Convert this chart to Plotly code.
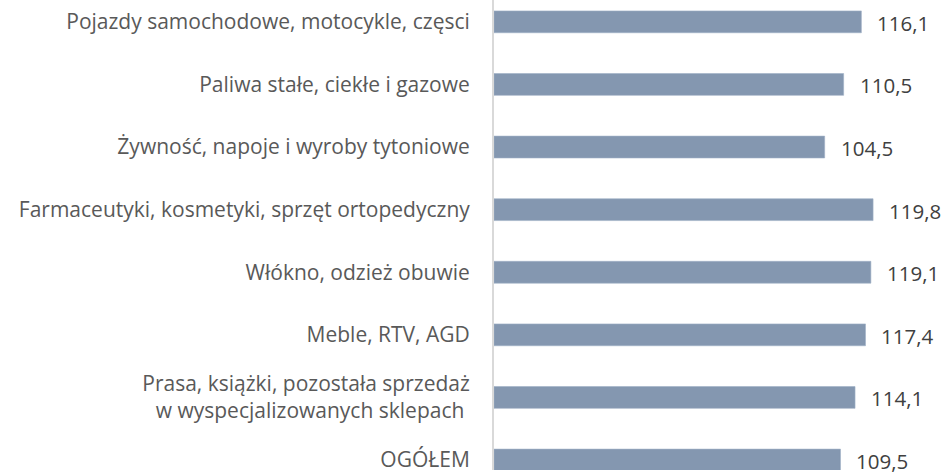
import plotly.graph_objects as go

categories = [
    "Pojazdy samochodowe, motocykle, częsci",
    "Paliwa stałe, ciekłe i gazowe",
    "Żywność, napoje i wyroby tytoniowe",
    "Farmaceutyki, kosmetyki, sprzęt ortopedyczny",
    "Włókno, odzież obuwie",
    "Meble, RTV, AGD",
    "Prasa, książki, pozostała sprzedaż<br>w wyspecjalizowanych sklepach ",
    "OGÓŁEM",
]
values = [116.1, 110.5, 104.5, 119.8, 119.1, 117.4, 114.1, 109.5]
value_labels = [f"{v:.1f}".replace(".", ",") for v in values]

FONT = "Open Sans"
BAR = "#8497B0"

fig = go.Figure()
fig.add_trace(go.Bar(
    x=values, y=categories, orientation="h",
    marker=dict(color=BAR, line=dict(color="#9fb0c6", width=0.6)),
    width=0.349, hoverinfo="skip",
))

for c, v, t in zip(categories, values, value_labels):
    fig.add_annotation(x=v, y=c, text=t, showarrow=False, xanchor="left",
                       xshift=14, yshift=-1,
                       font=dict(family=FONT, size=20.5, color="#404040"))

fig.update_layout(
    width=947, height=473,
    margin=dict(l=494, r=10, t=0, b=0),
    plot_bgcolor="white", paper_bgcolor="white",
    showlegend=False,
    font=dict(family=FONT, size=21, color="#595959"),
    xaxis=dict(range=[0, 140], visible=False, showgrid=False, zeroline=False),
    yaxis=dict(
        type="category",
        categoryorder="array", categoryarray=categories,
        range=[7.159, -0.349],
        showline=True, linecolor="#d9d9d9", linewidth=2,
        showgrid=False, zeroline=False, ticks="",
        ticklabelstandoff=18,
        tickfont=dict(family=FONT, size=21, color="#595959"),
    ),
)

fig.write_html("out.html", config={"displayModeBar": False},
               post_script="document.body.style.margin='0';document.body.style.overflow='hidden';")
